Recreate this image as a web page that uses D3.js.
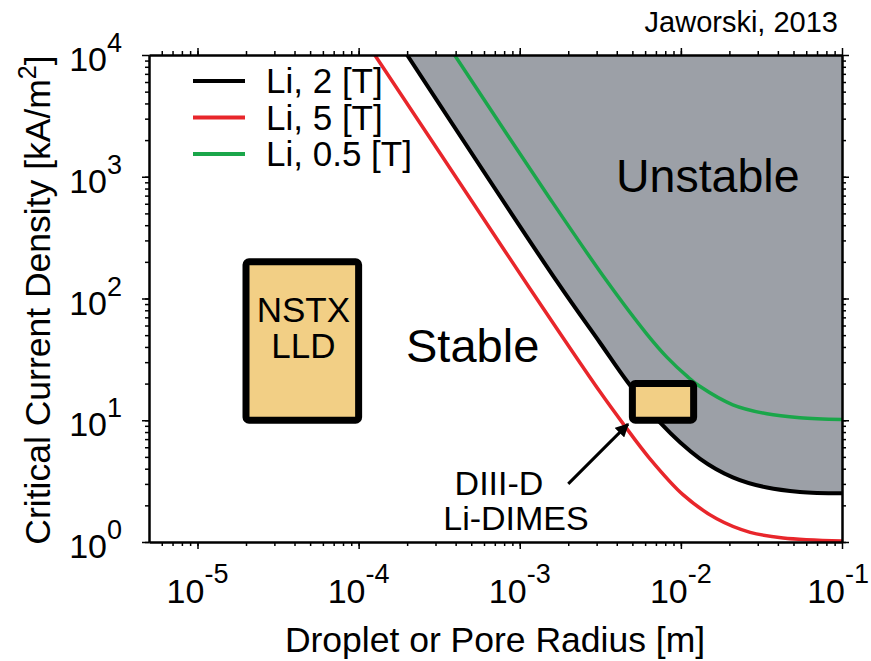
<!DOCTYPE html>
<html>
<head>
<meta charset="utf-8">
<script src="https://cdn.jsdelivr.net/npm/d3@7"></script>
<style>
  body { margin: 0; background: #fff; }
  svg { font-family: "Liberation Sans", Arial, Helvetica, sans-serif; }
</style>
</head>
<body>
<svg id="chart" width="871" height="661"></svg>
<script>
// Critical current density vs droplet/pore radius.
// radius in m, current density in kA/m^2
const radiusLi2T  = [2.0e-4, 1.70e-3, 3.14e-3, 4.62e-3, 7.41e-3, 1.31e-2, 2.10e-2, 3.42e-2, 5.48e-2, 1e-1];
const currentLi2T = [1e4,    138,     43.5,    21.0,    9.6,     4.85,    3.40,    2.80,    2.58,    2.51];

const radiusLi5T  = [1.26e-4, 5.11e-4, 1.15e-3, 3.14e-3, 4.40e-3, 6.41e-3, 1.03e-2, 1.67e-2, 2.69e-2, 4.31e-2, 1e-1];
const currentLi5T = [1e4,     615,     122,     17.2,    9.3,     4.85,    2.45,    1.55,    1.20,    1.08,    1.02];

const radiusLi05T  = [3.94e-4, 1.53e-3, 3.47e-3, 6.15e-3, 8.18e-3, 1.10e-2, 1.31e-2, 2.10e-2, 3.42e-2, 5.48e-2, 1e-1];
const currentLi05T = [1e4,     670,     139,     51,      33,      22.8,    19.0,    13.4,    11.3,    10.5,    10.15];

const seriesNames  = ['Li, 2 [T]', 'Li, 5 [T]', 'Li, 0.5 [T]'];
const seriesColors = ['#000000', '#e8262b', '#1aa64a'];

// experiment windows: [rMin, rMax, jMin, jMax]
const nstxBox  = [2e-5, 1e-4, 10, 200];
const diiidBox = [5e-3, 1.2e-2, 10, 20];

const xTickExps = [-5, -4, -3, -2, -1];
const yTickExps = [0, 1, 2, 3, 4];

const width = 871, height = 661;
const margin = {top: 55, right: 29, bottom: 119, left: 149};

const svg = d3.select('#chart');

let x = d3.scaleLog().domain([5e-6, 1e-1]).range([margin.left, width - margin.right]);
let y = d3.scaleLog().domain([1, 1e4]).range([height - margin.bottom, margin.top]);

let toPoints = (rs, js) => rs.map((r, i) => ({r: r, j: js[i]}));
let series = [
  toPoints(radiusLi2T, currentLi2T),
  toPoints(radiusLi5T, currentLi5T),
  toPoints(radiusLi05T, currentLi05T)
];

svg.append('clipPath').attr('id', 'plotClip')
  .append('rect')
  .attr('x', margin.left).attr('y', margin.top)
  .attr('width', width - margin.left - margin.right)
  .attr('height', height - margin.top - margin.bottom);

let plot = svg.append('g').attr('clip-path', 'url(#plotClip)');

//Unstable region: everything above the 2 T curve.
let areaFn = d3.area()
  .x(d => x(d.r))
  .y0(y(1e4))
  .y1(d => y(d.j))
  .curve(d3.curveCatmullRom.alpha(0.5));
plot.append('path')
  .attr('d', areaFn(series[0]))
  .attr('fill', '#9ca0a7');

let lineFn = d3.line()
  .x(d => x(d.r))
  .y(d => y(d.j))
  .curve(d3.curveCatmullRom.alpha(0.5));

//draw green and red first so black sits on top like the original
[2, 1, 0].forEach(i => {
  plot.append('path')
    .attr('d', lineFn(series[i]))
    .attr('fill', 'none')
    .attr('stroke', seriesColors[i])
    .attr('stroke-width', i == 0 ? 4 : 3.5);
});

//experiment boxes
function drawBox(b) {
  plot.append('rect')
    .attr('x', x(b[0])).attr('y', y(b[3]))
    .attr('width', x(b[1]) - x(b[0]))
    .attr('height', y(b[2]) - y(b[3]))
    .attr('rx', 3).attr('ry', 3)
    .attr('fill', '#f2cf85')
    .attr('stroke', '#000')
    .attr('stroke-width', 7);
}
drawBox(nstxBox);
drawBox(diiidBox);

let nstxMid = (x(nstxBox[0]) + x(nstxBox[1])) / 2 + 1;
let nstxText = svg.append('text').attr('text-anchor', 'middle').style('font-size', '35px');
nstxText.append('tspan').attr('x', nstxMid).attr('y', 322).text('NSTX');
nstxText.append('tspan').attr('x', nstxMid).attr('y', 358).text('LLD');

//arrow to the DIII-D box
svg.append('defs').append('marker')
  .attr('id', 'arrowHead')
  .attr('viewBox', '0 0 10 10')
  .attr('refX', 9).attr('refY', 5)
  .attr('markerWidth', 4.5).attr('markerHeight', 4.5)
  .attr('orient', 'auto')
  .append('path').attr('d', 'M0,0L10,5L0,10z').attr('fill', '#000');
svg.append('line')
  .attr('x1', x(2e-3)).attr('y1', y(3.0))
  .attr('x2', x(4.7e-3)).attr('y2', y(9.3))
  .attr('stroke', '#000').attr('stroke-width', 3)
  .attr('marker-end', 'url(#arrowHead)');

let diiidText = svg.append('text').attr('text-anchor', 'middle').style('font-size', '34px');
diiidText.append('tspan').attr('x', 499).attr('y', 495).text('DIII-D');
diiidText.append('tspan').attr('x', 516).attr('y', 530).text('Li-DIMES');

svg.append('text').attr('x', 616).attr('y', 192).style('font-size', '46.5px').text('Unstable');
svg.append('text').attr('x', 406).attr('y', 362).style('font-size', '47px').text('Stable');

//Legend
let legend = svg.append('g');
seriesNames.forEach((name, i) => {
  let ly = 81 + i * 36.5;
  legend.append('line')
    .attr('x1', 193).attr('x2', 245).attr('y1', ly).attr('y2', ly)
    .attr('stroke', seriesColors[i]).attr('stroke-width', 4);
  legend.append('text')
    .attr('x', 266).attr('y', ly + 12)
    .style('font-size', '35px')
    .text(name);
});

//Axes - ticks outward on all four sides
let minor = (lo, hi) => {
  let out = [];
  for (let e = lo; e <= hi; e++) {
    for (let m = 1; m < 10; m++) out.push(m * Math.pow(10, e));
  }
  return out;
};
let xMinor = minor(-6, -2).filter(v => v >= 5e-6 && v <= 1e-1);
let yMinor = minor(0, 3).filter(v => v >= 1 && v <= 1e4);
let xMajor = xTickExps.map(e => Math.pow(10, e));
let yMajor = yTickExps.map(e => Math.pow(10, e));

function styleAxis(g) {
  g.select('.domain').attr('stroke', '#000').attr('stroke-width', 2);
  g.selectAll('.tick line').attr('stroke', '#000').attr('stroke-width', 1.5);
  g.selectAll('.tick text').remove();
}

let axes = [
  [d3.axisBottom, 'translate(0,' + y(1) + ')', x, xMinor, 4],
  [d3.axisBottom, 'translate(0,' + y(1) + ')', x, xMajor, 7],
  [d3.axisTop, 'translate(0,' + y(1e4) + ')', x, xMinor, 4],
  [d3.axisTop, 'translate(0,' + y(1e4) + ')', x, xMajor, 7],
  [d3.axisLeft, 'translate(' + x(5e-6) + ',0)', y, yMinor, 4],
  [d3.axisLeft, 'translate(' + x(5e-6) + ',0)', y, yMajor, 7],
  [d3.axisRight, 'translate(' + x(1e-1) + ',0)', y, yMinor, 4],
  [d3.axisRight, 'translate(' + x(1e-1) + ',0)', y, yMajor, 7]
];
axes.forEach(a => {
  svg.append('g').attr('transform', a[1])
    .call(a[0](a[2]).tickValues(a[3]).tickSize(a[4]).tickSizeOuter(0))
    .call(styleAxis);
});

//Tick labels as 10 with a superscript exponent
xTickExps.forEach(e => {
  let t = svg.append('text')
    .attr('x', x(Math.pow(10, e))).attr('y', y(1) + 61)
    .attr('text-anchor', 'middle');
  t.append('tspan').style('font-size', '34px').text('10');
  t.append('tspan').style('font-size', '27px').attr('dy', -20).text(e);
  //keep the last label inside the picture
  let box = t.node().getBBox();
  if (box.x + box.width > width - 2) {
    t.attr('x', x(Math.pow(10, e)) - (box.x + box.width - (width - 2)));
  }
});
yTickExps.forEach(e => {
  let t = svg.append('text')
    .attr('x', x(5e-6) - 27).attr('y', y(Math.pow(10, e)) + 16)
    .attr('text-anchor', 'end');
  t.append('tspan').style('font-size', '34px').text('10');
  t.append('tspan').style('font-size', '27px').attr('dy', -19).text(e);
});

//Axis titles
svg.append('text')
  .attr('x', 495).attr('y', 652)
  .attr('text-anchor', 'middle')
  .style('font-size', '35.5px')
  .text('Droplet or Pore Radius [m]');

let yTitle = svg.append('text')
  .attr('transform', 'translate(50,' + 300 + ')rotate(-90)')
  .attr('text-anchor', 'middle')
  .style('font-size', '35.5px');
yTitle.append('tspan').text('Critical Current Density [kA/m');
yTitle.append('tspan').style('font-size', '25px').attr('dy', -14).text('2');
yTitle.append('tspan').attr('dy', 14).text(']');

svg.append('text')
  .attr('x', 838).attr('y', 32)
  .attr('text-anchor', 'end')
  .style('font-size', '29px')
  .text('Jaworski, 2013');
</script>
</body>
</html>
